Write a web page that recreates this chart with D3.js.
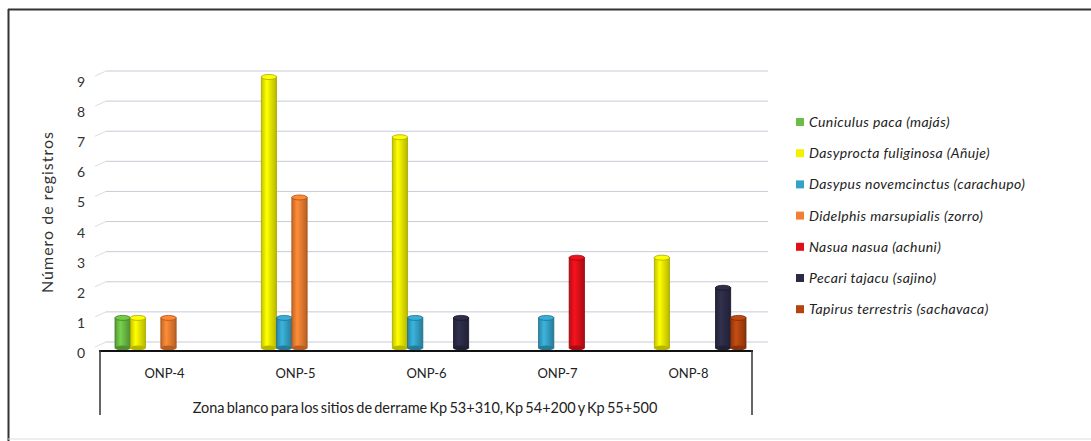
<!DOCTYPE html>
<html>
<head>
<meta charset="utf-8">
<script src="https://cdn.jsdelivr.net/npm/d3@7"></script>
<style>
  body { margin: 0; background: #fff; }
  text { font-family: Lato, "Noto Sans", sans-serif; }
</style>
</head>
<body>
<svg id="chart"></svg>
<script>
const width = 1091;
const height = 441;

const sites = ["ONP-4", "ONP-5", "ONP-6", "ONP-7", "ONP-8"];
const species = [
    "Cuniculus paca (majás)",
    "Dasyprocta fuliginosa (Añuje)",
    "Dasypus novemcinctus (carachupo)",
    "Didelphis marsupialis (zorro)",
    "Nasua nasua (achuni)",
    "Pecari tajacu (sajino)",
    "Tapirus terrestris (sachavaca)"
];
// one array per species, values per site
const cuniculus  = [1, 0, 0, 0, 0];
const dasyprocta = [1, 9, 7, 0, 3];
const dasypus    = [0, 1, 1, 1, 0];
const didelphis  = [1, 5, 0, 0, 0];
const nasua      = [0, 0, 0, 3, 0];
const pecari     = [0, 0, 1, 0, 2];
const tapirus    = [0, 0, 0, 0, 1];
const yTicks = [0, 1, 2, 3, 4, 5, 6, 7, 8, 9];
const colors = ["#6cbd45", "#f2f200", "#35a3c9", "#f27f31", "#e0101a", "#2c2b46", "#b4440f"];
const edges  = ["#3f7d27", "#a8a800", "#1f6f8d", "#a8501a", "#8e0a10", "#17162a", "#73290a"];

const seriesValues = [cuniculus, dasyprocta, dasypus, didelphis, nasua, pecari, tapirus];

const svg = d3.select("#chart").attr("width", width).attr("height", height);

// frame
svg.append("line").attr("x1", 8).attr("x2", width).attr("y1", 9.5).attr("y2", 9.5)
    .attr("stroke", "#333").attr("stroke-width", 2);
svg.append("line").attr("x1", 8.5).attr("x2", 8.5).attr("y1", 9).attr("y2", height)
    .attr("stroke", "#333").attr("stroke-width", 2);
svg.append("line").attr("x1", 8).attr("x2", width).attr("y1", 439).attr("y2", 439)
    .attr("stroke", "#ddd").attr("stroke-width", 1);

const x0 = d3.scaleBand().domain(sites).range([100, 755]).padding(0);
const x1 = d3.scaleBand().domain(d3.range(species.length)).range([15, 122]).padding(0);
const y = d3.scaleLinear().domain([0, 9]).range([348, 77]);

// gridlines (back wall, shifted up)
const grid = svg.append("g");
yTicks.forEach(t => {
    grid.append("line")
        .attr("x1", 106).attr("x2", 768)
        .attr("y1", y(t) - 6).attr("y2", y(t) - 6)
        .attr("stroke", "#c9cbd6").attr("stroke-width", 1);
    grid.append("line")
        .attr("x1", 95).attr("x2", 106)
        .attr("y1", y(t) - 1).attr("y2", y(t) - 6)
        .attr("stroke", "#dcdde4").attr("stroke-width", 1);
});

// y tick labels
const yAxis = d3.axisLeft(y).tickValues(yTicks).tickSize(0).tickPadding(0);
svg.append("g")
    .attr("transform", "translate(85,5)")
    .call(yAxis)
    .call(g => g.select(".domain").remove())
    .selectAll("text")
    .attr("font-size", 14)
    .attr("fill", "#333")
    .style("font-family", "Lato, 'Noto Sans', sans-serif");

svg.append("text")
    .attr("transform", "translate(53,212) rotate(-90)")
    .attr("text-anchor", "middle")
    .attr("font-size", 16)
    .attr("letter-spacing", 1)
    .attr("fill", "#333")
    .text("Número de registros");

// cylinder bars
const bars = [];
sites.forEach((s, i) => {
    seriesValues.forEach((vals, j) => {
        if (vals[i] > 0) bars.push({ site: s, k: j, value: vals[i] });
    });
});

const defs = svg.append("defs");
colors.forEach((c, j) => {
    const g = defs.append("linearGradient").attr("id", "grad" + j)
        .attr("x1", "0%").attr("x2", "100%").attr("y1", "0%").attr("y2", "0%");
    g.append("stop").attr("offset", "0%").attr("stop-color", d3.color(c).darker(0.6));
    g.append("stop").attr("offset", "35%").attr("stop-color", d3.color(c).brighter(0.3));
    g.append("stop").attr("offset", "100%").attr("stop-color", d3.color(c).darker(0.8));
});

const bw = x1.bandwidth();
const cyl = svg.append("g").selectAll("g").data(bars).enter().append("g");
cyl.append("rect")
    .attr("x", d => x0(d.site) + x1(d.k))
    .attr("y", d => y(d.value))
    .attr("width", bw)
    .attr("height", d => y(0) - y(d.value))
    .attr("fill", d => "url(#grad" + d.k + ")")
    .attr("stroke", d => edges[d.k])
    .attr("stroke-width", 0.8);
cyl.append("ellipse")
    .attr("cx", d => x0(d.site) + x1(d.k) + bw / 2)
    .attr("cy", y(0))
    .attr("rx", bw / 2).attr("ry", 2.5)
    .attr("fill", d => d3.color(colors[d.k]).darker(0.8));
cyl.append("ellipse")
    .attr("cx", d => x0(d.site) + x1(d.k) + bw / 2)
    .attr("cy", d => y(d.value))
    .attr("rx", bw / 2).attr("ry", 2.5)
    .attr("fill", d => d3.color(colors[d.k]).brighter(0.2))
    .attr("stroke", d => edges[d.k])
    .attr("stroke-width", 0.8);

// category axis box
const axisG = svg.append("g");
axisG.append("line").attr("x1", 99).attr("x2", 753).attr("y1", 351).attr("y2", 351)
    .attr("stroke", "#111").attr("stroke-width", 2);
axisG.append("line").attr("x1", 100).attr("x2", 100).attr("y1", 350).attr("y2", 415)
    .attr("stroke", "#333").attr("stroke-width", 1.5);
axisG.append("line").attr("x1", 752).attr("x2", 752).attr("y1", 350).attr("y2", 415)
    .attr("stroke", "#333").attr("stroke-width", 1.5);

svg.append("g").selectAll("text").data(sites).enter().append("text")
    .attr("x", d => x0(d) + x0.bandwidth() / 2 - 1)
    .attr("y", 378)
    .attr("text-anchor", "middle")
    .attr("font-size", 13)
    .attr("fill", "#222")
    .text(d => d);

svg.append("text")
    .attr("x", 425).attr("y", 413)
    .attr("text-anchor", "middle")
    .attr("font-size", 14.5)
    .attr("fill", "#222")
    .attr("word-spacing", -1.5)
    .text("Zona blanco para los sitios de derrame Kp 53+310, Kp 54+200 y Kp 55+500");

// legend
const legend = svg.append("g").selectAll("g").data(species).enter().append("g")
    .attr("transform", (d, i) => `translate(796,${122 + i * 31.2})`);
legend.append("rect")
    .attr("x", 0).attr("y", -4).attr("width", 8).attr("height", 8)
    .attr("fill", (d, i) => colors[i]);
legend.append("text")
    .attr("x", 13).attr("y", 5)
    .attr("font-size", 14)
    .attr("letter-spacing", 0.4)
    .attr("font-style", "italic")
    .attr("fill", "#222")
    .text(d => d);
</script>
</body>
</html>
